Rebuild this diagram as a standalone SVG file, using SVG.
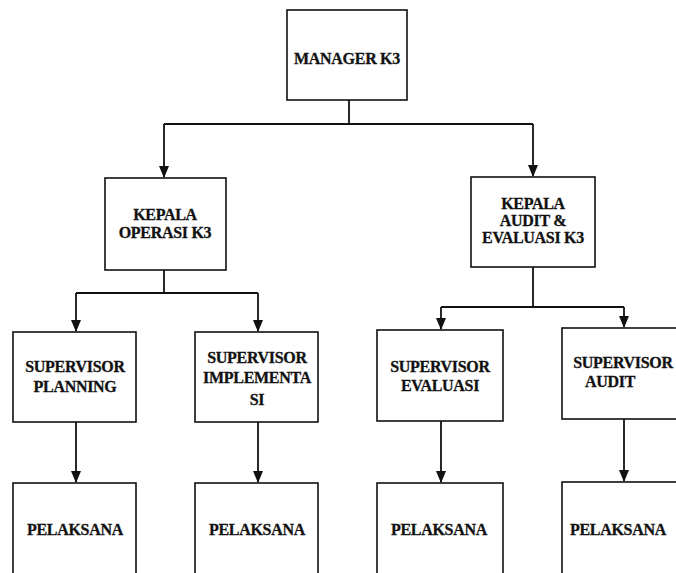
<svg xmlns="http://www.w3.org/2000/svg" width="676" height="573" viewBox="0 0 676 573">
<defs>
<style>
.box{fill:#fff;stroke:#111;stroke-width:1.6}
.t{font-family:"Liberation Serif","Times New Roman",serif;font-weight:bold;font-size:16px;text-anchor:middle;fill:#111;stroke:#111;stroke-width:0.3;letter-spacing:-0.3px}
.c{fill:none;stroke:#111;stroke-width:1.8}
</style>
</defs>
<rect width="676" height="573" fill="#fff"/>
<g id="connectors">
<path class="c" d="M349,100 V124"/>
<path class="c" d="M164,124 H533"/>
<path class="c" d="M164,124 V177"/>
<path class="c" d="M533,124 V176"/>
<path class="c" d="M164,270 V293"/>
<path class="c" d="M76,293 H258"/>
<path class="c" d="M76,293 V331"/>
<path class="c" d="M258,293 V331"/>
<path class="c" d="M533,267 V307"/>
<path class="c" d="M441,307 H624"/>
<path class="c" d="M441,307 V329"/>
<path class="c" d="M624,307 V327"/>
<path class="c" d="M76,422 V482"/>
<path class="c" d="M258,422 V482"/>
<path class="c" d="M441,421 V482"/>
<path class="c" d="M624,419 V481"/>
<g fill="#111">
<path d="M159,166 L169,166 L164,178 Z"/>
<path d="M528,165 L538,165 L533,177 Z"/>
<path d="M71,320 L81,320 L76,332 Z"/>
<path d="M253,320 L263,320 L258,332 Z"/>
<path d="M436,318 L446,318 L441,330 Z"/>
<path d="M619,316 L629,316 L624,328 Z"/>
<path d="M71,471 L81,471 L76,483 Z"/>
<path d="M253,471 L263,471 L258,483 Z"/>
<path d="M436,471 L446,471 L441,483 Z"/>
<path d="M619,470 L629,470 L624,482 Z"/>
</g>
</g>
<g id="manager">
<rect class="box" x="287" y="10" width="120" height="90"/>
<text class="t" x="347" y="64">MANAGER K3</text>
</g>
<g id="kepala-operasi">
<rect class="box" x="105" y="178" width="121" height="92"/>
<text class="t" x="165" y="220">KEPALA</text>
<text class="t" x="165" y="238">OPERASI K3</text>
</g>
<g id="kepala-audit">
<rect class="box" x="471" y="177" width="124" height="90"/>
<text class="t" x="533" y="209">KEPALA</text>
<text class="t" x="533" y="226">AUDIT &amp;</text>
<text class="t" x="533" y="243">EVALUASI K3</text>
</g>
<g id="sup-planning">
<rect class="box" x="13" y="332" width="123" height="90"/>
<text class="t" x="75" y="372">SUPERVISOR</text>
<text class="t" x="75" y="392">PLANNING</text>
</g>
<g id="sup-implementasi">
<rect class="box" x="195" y="332" width="123" height="90"/>
<text class="t" x="257" y="363">SUPERVISOR</text>
<text class="t" x="257" y="383">IMPLEMENTA</text>
<text class="t" x="257" y="405">SI</text>
</g>
<g id="sup-evaluasi">
<rect class="box" x="377" y="330" width="126" height="91"/>
<text class="t" x="440" y="372">SUPERVISOR</text>
<text class="t" x="440" y="391">EVALUASI</text>
</g>
<g id="sup-audit">
<rect class="box" x="562" y="328" width="126" height="91"/>
<text class="t" x="623" y="368">SUPERVISOR</text>
<text class="t" x="610" y="387">AUDIT</text>
</g>
<g id="pelaksana-1">
<rect class="box" x="13" y="483" width="123" height="110"/>
<text class="t" x="75" y="535">PELAKSANA</text>
</g>
<g id="pelaksana-2">
<rect class="box" x="195" y="483" width="123" height="110"/>
<text class="t" x="257" y="535">PELAKSANA</text>
</g>
<g id="pelaksana-3">
<rect class="box" x="377" y="483" width="126" height="110"/>
<text class="t" x="439" y="535">PELAKSANA</text>
</g>
<g id="pelaksana-4">
<rect class="box" x="562" y="482" width="126" height="110"/>
<text class="t" x="618" y="535">PELAKSANA</text>
</g>
</svg>
